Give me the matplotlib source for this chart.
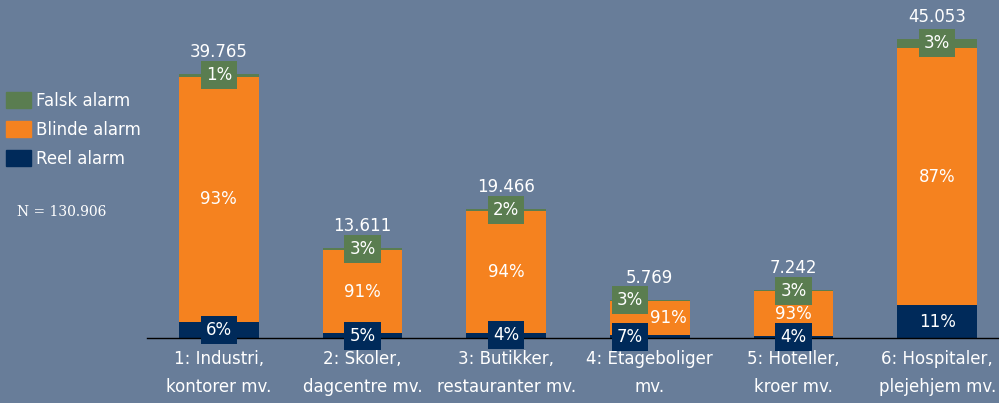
import numpy as np
import matplotlib.pyplot as plt
from matplotlib.patches import Patch

categories = ['1: Industri,\nkontorer mv.', '2: Skoler,\ndagcentre mv.', '3: Butikker,\nrestauranter mv.',
              '4: Etageboliger\nmv.', '5: Hoteller,\nkroer mv.', '6: Hospitaler,\nplejehjem mv.']
totals = [39765, 13611, 19466, 5769, 7242, 45053]
reel_pct = [6, 5, 4, 7, 4, 11]
blinde_pct = [93, 91, 94, 91, 93, 87]
falsk_pct = [1, 3, 2, 3, 3, 3]
total_labels = ['39.765', '13.611', '19.466', '5.769', '7.242', '45.053']

bg = '#687d99'
c_reel = '#002a5a'
c_blinde = '#f5821f'
c_falsk = '#5a7d50'

totals = np.array(totals, dtype=float)
reel_pct = np.array(reel_pct, dtype=float)
blinde_pct = np.array(blinde_pct, dtype=float)
falsk_pct = np.array(falsk_pct, dtype=float)
s = reel_pct + blinde_pct + falsk_pct
reel = totals * reel_pct / s
blinde = totals * blinde_pct / s
falsk = totals * falsk_pct / s

fig = plt.figure(figsize=(9.99, 4.03), dpi=100, facecolor=bg)
ax = fig.add_axes([147/999, 65/403, (1009-147)/999, 332/403])
ax.set_facecolor(bg)

x = np.arange(len(categories))
w = 80/144
b1 = ax.bar(x, reel, w, color=c_reel, label='Reel alarm')
b2 = ax.bar(x, blinde, w, bottom=reel, color=c_blinde, label='Blinde alarm')
b3 = ax.bar(x, falsk, w, bottom=reel+blinde, color=c_falsk, label='Falsk alarm')

ax.set_xlim(-0.5, 5.5)
ax.set_ylim(0, 50000)
for sp in ['top', 'right', 'left']:
    ax.spines[sp].set_visible(False)
ax.spines['bottom'].set_color('black')
ax.spines['bottom'].set_linewidth(1)
ax.set_yticks([])
ax.set_xticks(x)
ax.set_xticklabels(categories, color='white', fontsize=12, linespacing=1.65)
ax.tick_params(axis='x', length=0, pad=9)

fs = 12
for i in range(len(x)):
    # small bar (4) gets its labels pushed aside
    dx = -0.14 if i == 3 else 0
    dxm = 0.13 if i == 3 else 0
    ax.text(x[i], totals[i] + 3300, total_labels[i], ha='center', va='center',
            color='white', fontsize=fs)
    ax.text(x[i] + dx, reel[i] / 2, '%d%%' % reel_pct[i], ha='center', va='center',
            color='white', fontsize=fs,
            bbox=dict(boxstyle='square,pad=0.3', fc=c_reel, ec='none'))
    ax.text(x[i] + dxm, reel[i] + blinde[i] / 2, '%d%%' % blinde_pct[i], ha='center',
            va='center', color='white', fontsize=fs)
    ax.text(x[i] + dx, reel[i] + blinde[i] + falsk[i] / 2, '%d%%' % falsk_pct[i],
            ha='center', va='center', color='white', fontsize=fs,
            bbox=dict(boxstyle='square,pad=0.3', fc=c_falsk, ec='none'))

handles = [Patch(color=c_falsk), Patch(color=c_blinde), Patch(color=c_reel)]
labels = ['Falsk alarm', 'Blinde alarm', 'Reel alarm']
leg = fig.legend(handles, labels, loc='upper left', bbox_to_anchor=(6/999, 1-92/403),
                 frameon=False, fontsize=12, handlelength=1.5, handleheight=1.08,
                 labelspacing=0.66, handletextpad=0.3, borderpad=0, borderaxespad=0)
for t in leg.get_texts():
    t.set_color('white')

fig.text(17/999, 1-212/403, 'N = 130.906', color='white', fontsize=10,
         family='DejaVu Serif', ha='left', va='center')

# title sits mostly above the visible area
fig.text(795/999, 1 + 9/403, 'Alarmer fordelt på bygninger', color='white',
         fontsize=18, fontweight='bold', ha='right', va='baseline')

plt.savefig('out.png', dpi=100, facecolor=bg)
